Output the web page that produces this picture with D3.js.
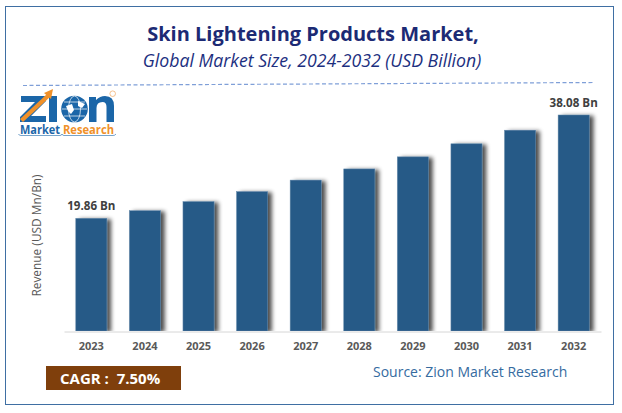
<!DOCTYPE html>
<html>
<head>
<meta charset="utf-8">
<script src="https://cdn.jsdelivr.net/npm/d3@7"></script>
<style>
  html, body { margin: 0; padding: 0; background: #fff; }
  svg { display: block; }
</style>
</head>
<body>
<svg id="chart" width="622" height="413"></svg>
<script>
// values, only first and last are printed on it
const years = ["2023", "2024", "2025", "2026", "2027", "2028", "2029", "2030", "2031", "2032"];
const revenue = [19.86, 21.2, 22.8, 24.57, 26.6, 28.57, 30.7, 33.0, 35.4, 38.08];
const shownLabels = { 2023: "19.86 Bn", 2032: "38.08 Bn" };

const svg = d3.select("#chart");
const bodyFont = "'Open Sans', 'Noto Sans', sans-serif";

let leftMargin = 64,
  rightEdge = 601,
  axisY = 331,
  pxPerUnit = 216 / 38.08;

let xScale = d3.scaleBand().domain(years).range([leftMargin, rightEdge]).paddingInner(0.42).paddingOuter(0.22);
let yScale = d3.scaleLinear().domain([0, 38.08]).range([axisY, axisY - 38.08 * pxPerUnit]);

// soft shadow to the right of the bars
let filter = svg.append("defs").append("filter")
  .attr("id", "barShadow")
  .attr("x", "-20%").attr("y", "-5%").attr("width", "160%").attr("height", "110%");
filter.append("feGaussianBlur").attr("in", "SourceAlpha").attr("stdDeviation", 2.2).attr("result", "blur");
filter.append("feOffset").attr("in", "blur").attr("dx", 3.5).attr("dy", 1).attr("result", "off");
filter.append("feComponentTransfer").attr("in", "off").attr("result", "soft")
  .append("feFuncA").attr("type", "linear").attr("slope", 0.7);
let merge = filter.append("feMerge");
merge.append("feMergeNode").attr("in", "soft");
merge.append("feMergeNode").attr("in", "SourceGraphic");

let clip = svg.select("defs").append("clipPath").attr("id", "aboveAxis");
clip.append("rect").attr("x", 0).attr("y", 0).attr("width", 622).attr("height", axisY);

// outer frame
svg.append("rect")
  .attr("x", 5.5).attr("y", 6.5).attr("width", 608).attr("height", 398)
  .attr("fill", "#fff").attr("stroke", "#3f6fa3").attr("stroke-width", 1);

// titles
svg.append("text")
  .attr("x", 313).attr("y", 41)
  .attr("text-anchor", "middle")
  .style("font-family", bodyFont).style("font-size", "20px").style("font-weight", 700)
  .attr("fill", "#1c2a74")
  .text("Skin Lightening Products Market,");
svg.append("text")
  .attr("x", 312).attr("y", 67)
  .attr("text-anchor", "middle")
  .style("font-family", bodyFont).style("font-size", "17.7px").style("font-style", "italic")
  .attr("fill", "#1c2f80")
  .text("Global Market Size, 2024-2032 (USD Billion)");

// dashed rule under the titles
svg.append("line")
  .attr("x1", 23).attr("y1", 85.5).attr("x2", 595).attr("y2", 82.5)
  .attr("stroke", "#7f9fd8").attr("stroke-width", 1.2).attr("stroke-dasharray", "4 2.5");

// bars
svg.append("g").attr("clip-path", "url(#aboveAxis)")
  .selectAll("rect")
  .data(years)
  .enter()
  .append("rect")
  .attr("x", (d) => xScale(d))
  .attr("y", (d, i) => yScale(revenue[i]))
  .attr("width", xScale.bandwidth())
  .attr("height", (d, i) => axisY - yScale(revenue[i]))
  .attr("fill", "#285a87")
  .attr("stroke", "#5f86a8")
  .attr("stroke-width", 0.5)
  .attr("filter", "url(#barShadow)");

// x axis
let xAxis = d3.axisBottom(xScale).tickSize(0).tickPadding(11);
let axisG = svg.append("g")
  .attr("transform", `translate(0,${axisY + 0.5})`)
  .call(xAxis);
axisG.select(".domain").attr("stroke", "#d6d6d6").attr("stroke-width", 1);
axisG.selectAll("text")
  .style("font-family", bodyFont).style("font-size", "11px").style("font-weight", 700)
  .attr("fill", "#595959");

// value labels for first and last bar
svg.append("g")
  .selectAll("text")
  .data(years.filter((d) => shownLabels[d]))
  .enter()
  .append("text")
  .attr("x", (d) => xScale(d) + xScale.bandwidth() / 2)
  .attr("y", (d) => yScale(revenue[years.indexOf(d)]) - 8.5)
  .attr("text-anchor", "middle")
  .style("font-family", bodyFont).style("font-size", "11.6px").style("font-weight", 700)
  .attr("fill", "#404040")
  .text((d) => shownLabels[d]);

// y axis title
svg.append("text")
  .attr("transform", "translate(41,235.5) rotate(-90)")
  .attr("text-anchor", "middle")
  .style("font-family", bodyFont).style("font-size", "11.9px")
  .attr("fill", "#595959")
  .text("Revenue (USD Mn/Bn)");

// CAGR box
svg.append("rect")
  .attr("x", 46).attr("y", 366).attr("width", 135).attr("height", 24)
  .attr("fill", "#7f3f0c");
svg.append("text")
  .attr("x", 60).attr("y", 383.5)
  .style("font-family", bodyFont).style("font-size", "15px").style("font-weight", 700)
  .attr("fill", "#fff")
  .attr("xml:space", "preserve")
  .text("CAGR :  7.50%");

// source
svg.append("text")
  .attr("x", 373).attr("y", 377)
  .style("font-family", bodyFont).style("font-size", "14px")
  .attr("fill", "#356b9f")
  .text("Source: Zion Market Research");

// logo, letters drawn as shapes
let logoBlue = "#1b66a8",
  logoOrange = "#f0912a";
let logo = svg.append("g");
logo.append("path")
  .attr("d", "M21 96 H46 V101 L31 116 H46 V122 H20 V117 L35 102 H21 Z")
  .attr("fill", logoBlue);
logo.append("rect").attr("x", 49).attr("y", 96).attr("width", 8).attr("height", 26).attr("fill", logoBlue);
logo.append("path").attr("d", "M20 119 L47 94 L50 97 L23 122 Z").attr("fill", logoOrange);
logo.append("path").attr("d", "M44 93 L53 89 L51 99 Z").attr("fill", logoOrange);
logo.append("circle").attr("cx", 74.5).attr("cy", 109).attr("r", 13.3).attr("fill", logoBlue);
logo.append("ellipse").attr("cx", 74.5).attr("cy", 109).attr("rx", 6).attr("ry", 13)
  .attr("fill", "none").attr("stroke", "#fff").attr("stroke-width", 0.7);
logo.append("line").attr("x1", 62).attr("y1", 109).attr("x2", 87).attr("y2", 109)
  .attr("stroke", "#fff").attr("stroke-width", 0.7);
logo.append("line").attr("x1", 64).attr("y1", 102).attr("x2", 85).attr("y2", 102)
  .attr("stroke", "#fff").attr("stroke-width", 0.7);
logo.append("line").attr("x1", 64).attr("y1", 116).attr("x2", 85).attr("y2", 116)
  .attr("stroke", "#fff").attr("stroke-width", 0.7);
logo.append("path").attr("d", "M66 106 L72 104 L74 110 L71 114 L68 111 Z M78 101 L85 104 L82 108 L78 106 Z")
  .attr("fill", "#fff");
logo.append("path")
  .attr("d", "M89 122 V97 H96 V100 Q100 96 105 96 Q114 96 114 106 V122 H106.5 V107 Q106.5 102 102.5 102 Q96.5 102 96.5 108 V122 Z")
  .attr("fill", logoBlue);
logo.append("circle").attr("cx", 112.7).attr("cy", 93.7).attr("r", 2.8)
  .attr("fill", "none").attr("stroke", "#f0a860").attr("stroke-width", 0.7);
logo.append("text").attr("x", 20).attr("y", 134)
  .style("font-family", bodyFont).style("font-size", "11.5px").style("font-weight", 700)
  .attr("fill", logoBlue).attr("textLength", 40).attr("lengthAdjust", "spacingAndGlyphs").text("Market");
logo.append("text").attr("x", 63).attr("y", 134)
  .style("font-family", bodyFont).style("font-size", "11.5px").style("font-weight", 700)
  .attr("fill", logoOrange).attr("textLength", 51).attr("lengthAdjust", "spacingAndGlyphs").text("Research");
logo.append("path").attr("d", "M18.5 134 Q19 135.5 21 135.5 L60 135.5 Q61.5 135.5 62 134 Q62.5 135.5 64 135.5 L113 135.5 Q115 135.5 116 134")
  .attr("fill", "none").attr("stroke", logoBlue).attr("stroke-width", 0.6);
</script>
</body>
</html>
